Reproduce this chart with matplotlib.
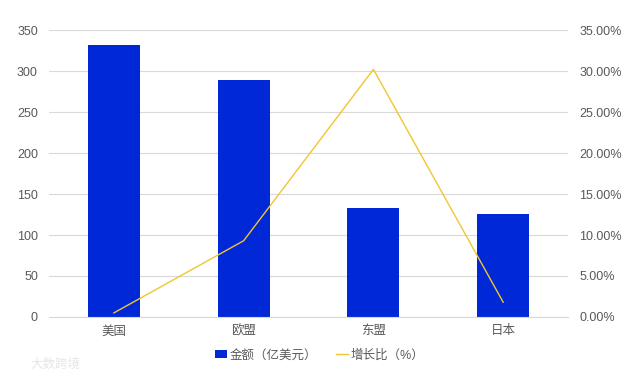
import matplotlib
matplotlib.use("Agg")
import matplotlib.pyplot as plt
from matplotlib.ticker import FuncFormatter, MultipleLocator

plt.rcParams['font.family'] = ['Liberation Sans', 'Noto Sans CJK SC', 'DejaVu Sans']

categories = ['美国', '欧盟', '东盟', '日本']
amounts = [332, 289, 133, 126]
growth = [0.5, 9.3, 30.2, 1.8]
legend_labels = ['金额（亿美元）', '增长比（%）']

bar_color = '#0028D7'
line_color = '#F2C530'
text_color = '#595959'
grid_color = '#D9D9D9'

fig = plt.figure(figsize=(6.39, 3.79), dpi=100)
ax = fig.add_axes([0.0767, 0.1636, 0.8123, 0.7572])
ax2 = ax.twinx()

x = list(range(len(categories)))
bars = ax.bar(x, amounts, width=0.4, color=bar_color, zorder=2, label=legend_labels[0])
line, = ax2.plot(x, growth, color=line_color, linewidth=1.0, zorder=3, label=legend_labels[1])

ax.set_xlim(-0.5, len(categories) - 0.5)
ax.set_ylim(0, 350)
ax.yaxis.set_major_locator(MultipleLocator(50))
ax2.set_ylim(0, 35)
ax2.yaxis.set_major_locator(MultipleLocator(5))
ax2.yaxis.set_major_formatter(FuncFormatter(lambda v, p: f'{v:.2f}%'))

ax2.set_zorder(ax.get_zorder() + 1)
ax2.patch.set_visible(False)

ax.grid(axis='y', color=grid_color, linewidth=0.8, zorder=0)
ax.set_axisbelow(True)
for a in (ax, ax2):
    for s in a.spines.values():
        s.set_visible(False)
    a.tick_params(length=0, colors=text_color, labelsize=9)
ax.spines['bottom'].set_visible(True)
ax.spines['bottom'].set_color(grid_color)
ax.set_xticks(x)
ax.set_xticklabels(categories)
ax.tick_params(axis='x', pad=6)
ax.tick_params(axis='y', pad=8)
ax2.tick_params(axis='y', pad=8)

fig.legend([bars, line], legend_labels, loc='center', bbox_to_anchor=(0.5, 0.063),
           ncol=2, frameon=False, fontsize=9, labelcolor=text_color,
           handlelength=1.0, handleheight=0.6, handletextpad=0.2, columnspacing=1.5)

fig.text(0.048, 0.03, '大数跨境', color='#E6E6E6', fontsize=9)

fig.savefig('out.png', dpi=100)
